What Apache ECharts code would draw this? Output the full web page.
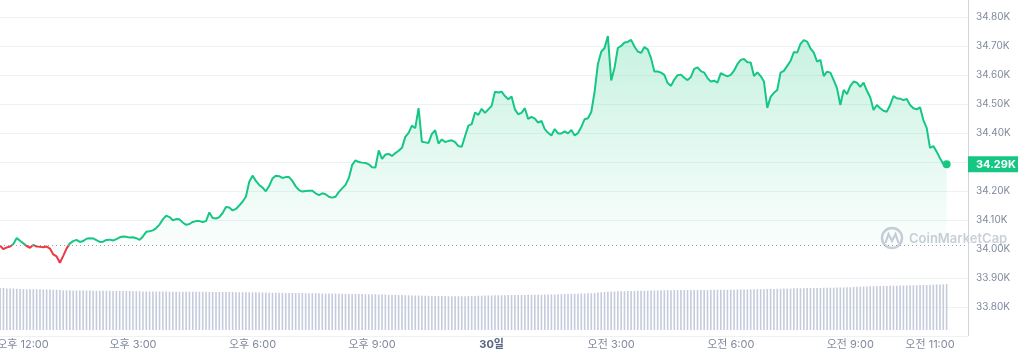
<!DOCTYPE html>
<html><head><meta charset="utf-8">
<script src="https://cdn.jsdelivr.net/npm/echarts@6/dist/echarts.min.js"></script>
<style>html,body{margin:0;padding:0;background:#fff}#c{width:1018px;height:356px}</style>
</head><body><div id="c"></div>
<script>
// time in minutes from 29일 00:00; one point every 5 minutes
const START_MIN = 700;
const STEP_MIN = 5;
const openPrice = 34014;

const prices = [
34011,33999,34005,34008,34017,34038,34028,34019,34010,34004,
34014,34008,34007,34006,34008,34001,33981,33974,33952,33976,
34001,34019,34027,34031,34024,34027,34035,34037,34036,34030,
34024,34025,34031,34032,34029,34034,34040,34043,34042,34039,
34040,34037,34031,34043,34059,34061,34064,34072,34084,34102,
34115,34110,34099,34103,34102,34091,34083,34086,34093,34096,
34096,34093,34096,34126,34107,34105,34110,34124,34145,34143,
34133,34138,34150,34163,34180,34231,34253,34235,34221,34212,
34199,34217,34243,34253,34251,34245,34248,34248,34235,34216,
34203,34198,34200,34201,34201,34192,34186,34192,34189,34180,
34177,34180,34197,34209,34221,34245,34290,34306,34300,34298,
34297,34292,34282,34281,34340,34311,34326,34328,34321,34331,
34339,34349,34387,34401,34426,34417,34486,34370,34368,34366,
34397,34410,34364,34378,34369,34373,34375,34369,34355,34353,
34390,34426,34431,34471,34463,34484,34470,34482,34494,34543,
34540,34543,34528,34517,34526,34482,34465,34470,34486,34449,
34456,34450,34436,34442,34414,34401,34392,34414,34399,34399,
34406,34399,34411,34392,34400,34421,34448,34451,34473,34542,
34639,34681,34694,34735,34582,34625,34694,34701,34713,34715,
34722,34699,34682,34677,34697,34689,34659,34613,34613,34609,
34601,34573,34563,34585,34600,34602,34591,34583,34594,34622,
34627,34614,34609,34590,34578,34581,34574,34607,34601,34596,
34601,34616,34638,34653,34656,34645,34644,34597,34610,34597,
34578,34487,34525,34539,34549,34609,34615,34632,34649,34680,
34678,34708,34721,34716,34693,34678,34647,34653,34597,34612,
34609,34583,34555,34497,34549,34535,34563,34578,34574,34560,
34574,34546,34524,34480,34497,34486,34477,34474,34497,34528,
34520,34519,34514,34518,34497,34486,34482,34489,34445,34418,
34349,34355,34336,34313,34293,34292
];

// 24h volume, billions
const volumes = [
16.8,16.8,16.6,16.6,16.6,16.5,
16.4,16.4,16.3,16.4,16.3,16.3,16.3,16.2,16.2,16.2,16.1,16.1,
16.0,15.9,15.9,15.9,15.8,15.8,15.8,15.8,15.8,15.8,15.7,15.7,15.7,15.7,15.7,15.7,15.6,15.6,15.6,15.6,15.6,15.6,
15.5,15.5,15.5,15.4,15.4,15.4,15.4,15.4,15.4,15.4,15.4,15.3,15.3,15.3,15.3,15.3,15.3,15.3,15.3,15.3,15.3,
15.3,15.3,15.2,15.2,15.2,15.2,15.2,15.2,15.2,15.2,15.1,15.1,15.1,15.1,15.1,15.1,15.1,15.0,15.0,15.0,
14.9,14.9,14.9,14.9,14.9,14.8,14.8,14.8,14.8,14.8,14.8,14.7,14.7,14.7,14.7,14.7,14.6,14.6,14.6,14.6,14.6,
14.5,14.5,14.5,14.4,14.4,14.4,14.4,14.4,14.3,14.3,14.3,14.3,14.2,14.2,14.2,14.1,14.1,14.1,
14.0,14.0,13.9,13.9,13.8,13.8,13.8,13.7,13.7,13.7,13.6,13.6,13.6,13.6,13.6,13.5,13.5,13.5,13.5,13.5,13.5,13.6,13.6,13.6,
13.7,13.7,13.8,13.8,13.8,13.9,13.9,13.9,13.9,14.0,14.0,14.0,14.0,14.0,14.0,14.1,14.1,14.1,14.1,14.1,14.2,14.2,14.2,14.2,
14.3,14.3,14.4,14.4,14.5,14.5,14.5,14.6,14.6,14.7,14.7,14.8,
15.0,15.1,15.2,15.3,15.4,15.4,15.5,15.5,15.5,15.6,15.6,15.6,15.7,15.7,15.7,15.7,15.8,15.8,
15.8,15.9,15.9,15.9,15.9,16.0,16.0,16.0,16.0,16.0,16.0,16.0,16.0,16.0,16.0,16.0,16.1,16.1,16.1,16.1,
16.1,16.1,16.1,16.1,16.2,16.2,16.2,16.2,16.2,16.3,16.3,16.3,16.3,16.4,16.4,16.4,
16.5,16.5,16.6,16.6,16.6,16.7,16.7,16.7,16.7,16.8,16.8,16.8,16.8,16.8,16.9,16.9,16.9,16.9,17.0,17.0,17.0,17.1,17.1,17.2,
17.3,17.3,17.4,17.4,17.5,17.5,17.5,17.6,17.6,17.6,17.7,17.7,17.7,17.8,17.8,17.8,17.9,17.9,17.9,18.0,18.0,18.0,18.1,18.1,18.2,18.2,18.3,18.4
];

const xTickValues = [720, 900, 1080, 1260, 1440, 1620, 1800, 1980, 2100];
const xTickLabels = ['오후 12:00','오후 3:00','오후 6:00','오후 9:00','30일','오전 3:00','오전 6:00','오전 9:00','오전 11:00'];

const X_MIN = 699.8, X_MAX = 2157.2;
const Y_MIN = 33700, Y_MAX = 34859.75;

const times = prices.map((_, i) => START_MIN + i * STEP_MIN);
const priceData = prices.map((p, i) => [times[i], p]);
const volData = volumes.map((v, i) => [times[i], v]);
const lastIdx = prices.length - 1;
const lastPrice = prices[lastIdx];

const GREEN = '#16c784', RED = '#ea3943';
const FONT = 'Inter, "Noto Sans CJK KR", sans-serif';

const splitColors = [];
for (let i = 0; i < 13; i++) splitColors.push(i === 3 || i === 12 ? 'rgba(0,0,0,0)' : '#eff2f5');

const chart = echarts.init(document.getElementById('c'), null, {renderer: 'canvas'});
chart.setOption({
  animation: false,
  textStyle: {fontFamily: FONT},
  grid: [
    {left: 0, right: 50, top: 0, bottom: 20.25, containLabel: false, outerBoundsMode: 'none'},
    {left: 0, right: 50, top: 270, bottom: 26, containLabel: false, outerBoundsMode: 'none'}
  ],
  xAxis: [
    {type: 'value', gridIndex: 0, min: X_MIN, max: X_MAX, show: false, splitLine: {show: false}},
    {type: 'value', gridIndex: 1, min: X_MIN, max: X_MAX,
     axisLine: {show: false}, axisTick: {show: false}, splitLine: {show: false},
     axisLabel: {
       customValues: xTickValues, margin: 9, fontSize: 11, color: '#808a9d', fontFamily: FONT,
       formatter: function (v) {
         const i = xTickValues.indexOf(Math.round(v));
         if (i < 0) return '';
         if (i === 0) return '{first|' + xTickLabels[i] + '}';
         if (xTickLabels[i].indexOf('일') >= 0) return '{day|' + xTickLabels[i] + '}';
         return xTickLabels[i];
       },
       rich: {
         first: {padding: [0, 0, 0, 19], fontSize: 11, color: '#808a9d', fontFamily: FONT},
         day: {fontSize: 11, fontWeight: 'bold', color: '#58667e', fontFamily: FONT}
       }
     }}
  ],
  yAxis: [
    {type: 'value', gridIndex: 0, position: 'right', min: Y_MIN, max: Y_MAX, interval: 100,
     axisLine: {show: true, lineStyle: {color: '#cfd4dd', width: 1}},
     axisTick: {show: false},
     splitLine: {show: true, lineStyle: {color: splitColors, width: 1}},
     axisLabel: {
       margin: 8, fontSize: 10, color: '#808a9d', fontFamily: FONT,
       showMinLabel: false, showMaxLabel: false,
       formatter: function (v) {
         if (Math.abs(v - 34300) < 1) return '';
         return (v / 1000).toFixed(2) + 'K';
       }
     }},
    {type: 'value', gridIndex: 1, min: 0, max: 24, show: false, splitLine: {show: false}}
  ],
  visualMap: {
    type: 'piecewise', show: false, seriesIndex: 0, dimension: 1,
    pieces: [{min: 30000, max: openPrice, color: RED}, {min: openPrice, max: 40000, color: GREEN}],
    outOfRange: {color: GREEN}
  },
  graphic: [
    {type: 'circle', z: -1, shape: {cx: 892, cy: 238, r: 10}, style: {fill: 'none', stroke: '#c9ced8', lineWidth: 2.5}},
    {type: 'polyline', z: -1, shape: {points: [[885.5, 243], [888.5, 234], [892, 241], [895.5, 234], [898.5, 243]]},
     style: {fill: 'none', stroke: '#c9ced8', lineWidth: 2.2}},
    {type: 'text', z: -1, x: 909, y: 239,
     style: {text: 'CoinMarketCap', fill: '#c9ced8', font: '600 13px Inter, sans-serif', verticalAlign: 'middle', align: 'left'}}
  ],
  series: [
    {
      type: 'line', xAxisIndex: 0, yAxisIndex: 0, data: priceData,
      symbol: 'none', smooth: false, lineStyle: {width: 2},
      areaStyle: {
        origin: openPrice,
        color: new echarts.graphic.LinearGradient(0, 0, 0, 1, [
          {offset: 0, color: 'rgba(22,199,132,0.34)'},
          {offset: 1, color: 'rgba(22,199,132,0)'}
        ])
      },
      markLine: {
        silent: true, symbol: 'none', animation: false,
        data: [
          {yAxis: openPrice, lineStyle: {type: [1, 3], color: '#9aa3b5', width: 1}, label: {show: false}}
        ]
      },
      markPoint: {
        silent: true, symbol: 'circle', symbolSize: 8, animation: false,
        itemStyle: {color: GREEN}, label: {show: false},
        data: [{coord: [times[lastIdx], lastPrice]}]
      }
    },
    {
      type: 'line', xAxisIndex: 0, yAxisIndex: 0, data: [], silent: true,
      markLine: {
        silent: true, symbol: 'none', animation: false,
        lineStyle: {color: 'rgba(0,0,0,0)', width: 1, type: 'solid'},
        label: {show: true, position: 'end', distance: 0, formatter: (lastPrice / 1000).toFixed(2) + 'K',
                backgroundColor: GREEN, color: '#fff', fontWeight: 'bold', fontSize: 11, fontFamily: FONT,
                padding: [3, 7, 2, 8]},
        data: [{yAxis: lastPrice}]
      }
    },
    {
      type: 'bar', xAxisIndex: 1, yAxisIndex: 1, data: volData,
      barWidth: 1.6, itemStyle: {color: '#c5cbdc'}, silent: true
    }
  ]
});
</script>
</body></html>
